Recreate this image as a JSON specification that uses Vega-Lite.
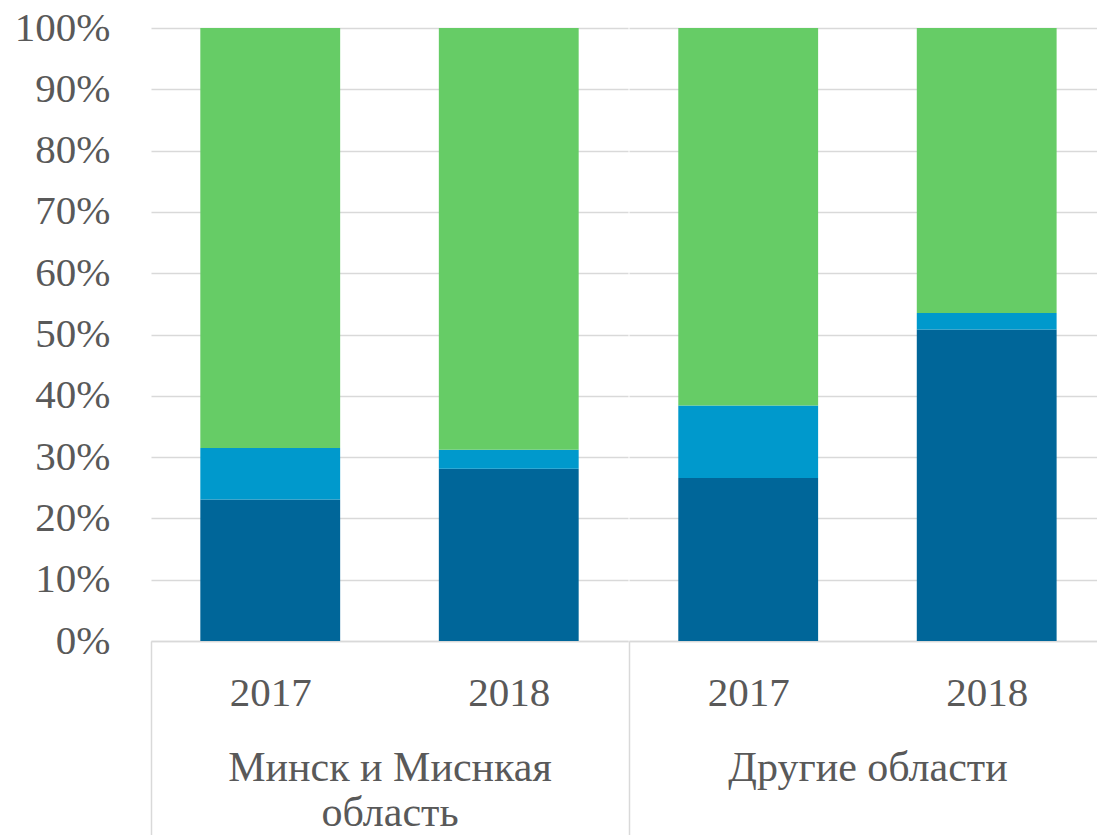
{
  "$schema": "https://vega.github.io/schema/vega-lite/v6.json",
  "padding": {"left": 14, "top": 7, "right": 0, "bottom": 0},
  "background": "white",
  "spacing": 0,
  "config": {
    "view": {"stroke": null},
    "font": "Liberation Serif",
    "axis": {
      "labelFont": "Liberation Serif",
      "titleFont": "Liberation Serif",
      "labelColor": "#595959",
      "titleColor": "#595959",
      "labelFontSize": 41,
      "titleFontSize": 42,
      "titleFontWeight": "normal",
      "gridColor": "#d9d9d9",
      "gridWidth": 1.5,
      "domainColor": "#d9d9d9",
      "domainWidth": 1.5
    }
  },
  "data": {
    "values": [
      {"region": "Минск и Миснкая область", "year": "2017", "series": "Серия 1", "value": 23.1},
      {"region": "Минск и Миснкая область", "year": "2017", "series": "Серия 2", "value": 8.4},
      {"region": "Минск и Миснкая область", "year": "2017", "series": "Серия 3", "value": 68.5},
      {"region": "Минск и Миснкая область", "year": "2018", "series": "Серия 1", "value": 28.1},
      {"region": "Минск и Миснкая область", "year": "2018", "series": "Серия 2", "value": 3.1},
      {"region": "Минск и Миснкая область", "year": "2018", "series": "Серия 3", "value": 68.8},
      {"region": "Другие области", "year": "2017", "series": "Серия 1", "value": 26.6},
      {"region": "Другие области", "year": "2017", "series": "Серия 2", "value": 11.8},
      {"region": "Другие области", "year": "2017", "series": "Серия 3", "value": 61.6},
      {"region": "Другие области", "year": "2018", "series": "Серия 1", "value": 50.8},
      {"region": "Другие области", "year": "2018", "series": "Серия 2", "value": 2.7},
      {"region": "Другие области", "year": "2018", "series": "Серия 3", "value": 46.5}
    ]
  },
  "hconcat": [
    {
      "width": 477,
      "height": 613,
      "transform": [{"filter": "datum.region == 'Минск и Миснкая область'"}],
      "mark": {"type": "bar"},
      "encoding": {
        "x": {
          "field": "year",
          "type": "nominal",
          "scale": {"paddingInner": 0.4137, "paddingOuter": 0.2068},
          "axis": {
            "title": ["Минск и Миснкая", "область"],
            "labelAngle": 0,
            "labelPadding": -162,
            "ticks": true,
            "tickSize": 194,
            "tickWidth": 1.5,
            "bandPosition": 0,
            "tickOffset": -49.3,
            "labelOffset": 49.3,
            "tickColor": {"condition": {"test": "datum.value == '2017'", "value": "#d9d9d9"}, "value": "rgba(0,0,0,0)"},
            "titleX": 238.5,
            "titleY": 139,
            "titleAlign": "center",
            "titleBaseline": "alphabetic",
            "titleLineHeight": 45
          }
        },
        "y": {
          "field": "value",
          "type": "quantitative",
          "stack": "normalize",
          "scale": {"domain": [0, 1], "nice": false},
          "axis": {
            "title": null,
            "format": ".0%",
            "values": [0, 0.1, 0.2, 0.3, 0.4, 0.5, 0.6, 0.7, 0.8, 0.9, 1],
            "domain": false,
            "ticks": false,
            "labelPadding": 41
          }
        },
        "color": {
          "field": "series",
          "type": "nominal",
          "scale": {"domain": ["Серия 1", "Серия 2", "Серия 3"], "range": ["#006699", "#0099cc", "#66cc66"]},
          "legend": null
        },
        "order": {"field": "series", "sort": "ascending"}
      }
    },
    {
      "width": 469,
      "height": 613,
      "transform": [{"filter": "datum.region == 'Другие области'"}],
      "mark": {"type": "bar"},
      "encoding": {
        "x": {
          "field": "year",
          "type": "nominal",
          "scale": {"paddingInner": 0.4137, "paddingOuter": 0.1901, "align": 0.5436},
          "axis": {
            "title": "Другие области",
            "labelAngle": 0,
            "labelPadding": -162,
            "ticks": true,
            "tickSize": 194,
            "tickWidth": 1.5,
            "bandPosition": 0,
            "tickOffset": -49.3,
            "labelOffset": 49.3,
            "tickColor": {"condition": {"test": "datum.value == '2017'", "value": "#d9d9d9"}, "value": "rgba(0,0,0,0)"},
            "titleX": 238.5,
            "titleY": 139,
            "titleAlign": "center",
            "titleBaseline": "alphabetic",
            "titleLineHeight": 45
          }
        },
        "y": {
          "field": "value",
          "type": "quantitative",
          "stack": "normalize",
          "scale": {"domain": [0, 1], "nice": false},
          "axis": {
            "title": null,
            "labels": false,
            "values": [0, 0.1, 0.2, 0.3, 0.4, 0.5, 0.6, 0.7, 0.8, 0.9, 1],
            "domain": false,
            "ticks": false
          }
        },
        "color": {
          "field": "series",
          "type": "nominal",
          "scale": {"domain": ["Серия 1", "Серия 2", "Серия 3"], "range": ["#006699", "#0099cc", "#66cc66"]},
          "legend": null
        },
        "order": {"field": "series", "sort": "ascending"}
      }
    }
  ]
}
